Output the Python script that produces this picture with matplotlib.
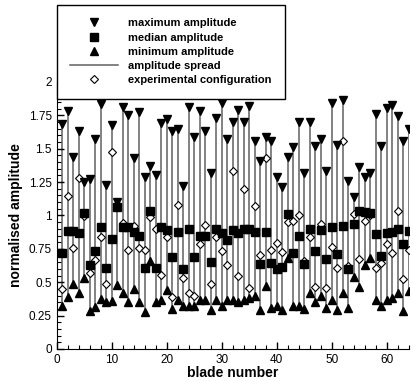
import matplotlib
matplotlib.use("Agg")
import matplotlib.pyplot as plt
import numpy as np
from matplotlib.lines import Line2D
from matplotlib.ticker import MultipleLocator

plt.rcParams['font.family'] = ['Liberation Sans', 'DejaVu Sans']

blade = np.arange(1, 65)

max_amp = [1.685, 1.78, 1.435, 1.635, 1.25, 1.27, 1.57, 1.835, 1.23, 1.68,
           1.10, 1.815, 1.75, 1.43, 1.775, 1.287, 1.37, 1.30, 1.69, 1.72,
           1.63, 1.65, 1.22, 1.815, 1.59, 1.78, 1.63, 1.32, 1.73, 1.84,
           1.57, 1.70, 1.79, 1.70, 1.82, 1.56, 1.41, 1.59, 1.555, 1.29,
           1.216, 1.44, 1.51, 1.70, 1.32, 1.70, 1.52, 1.57, 1.33, 1.845,
           1.528, 1.865, 1.26, 1.14, 1.366, 1.29, 1.315, 1.763, 1.524, 1.803,
           1.828, 1.747, 1.555, 1.645]

median_amp = [0.717, 0.886, 0.886, 0.871, 1.02, 0.63, 0.734, 0.914, 0.609, 0.826,
              1.065, 0.916, 0.916, 0.879, 0.843, 0.604, 1.03, 0.61, 0.916, 0.895,
              0.69, 0.88, 0.60, 0.90, 0.69, 0.85, 0.85, 0.65, 0.90, 0.87,
              0.82, 0.89, 0.87, 0.90, 0.90, 0.88, 0.635, 0.88, 0.645, 0.60,
              0.617, 1.01, 0.72, 0.85, 0.637, 0.897, 0.737, 0.891, 0.677, 0.916,
              0.713, 0.924, 0.60, 0.94, 1.035, 1.025, 1.02, 0.863, 0.70, 0.868,
              0.879, 0.90, 0.783, 0.884]

min_amp = [0.322, 0.39, 0.484, 0.417, 0.53, 0.282, 0.318, 0.372, 0.354, 0.36,
           0.48, 0.42, 0.35, 0.45, 0.35, 0.28, 0.66, 0.35, 0.37, 0.44,
           0.30, 0.37, 0.32, 0.32, 0.32, 0.37, 0.37, 0.29, 0.37, 0.32,
           0.37, 0.37, 0.35, 0.37, 0.385, 0.40, 0.29, 0.47, 0.31, 0.32,
           0.29, 0.68, 0.32, 0.32, 0.30, 0.42, 0.35, 0.40, 0.305, 0.37,
           0.29, 0.42, 0.305, 0.54, 0.465, 0.63, 0.68, 0.37, 0.32, 0.37,
           0.385, 0.42, 0.285, 0.435]

experimental = [0.45, 1.146, 0.76, 1.28, 0.996, 0.57, 0.663, 0.841, 0.49, 1.479,
                1.07, 0.946, 0.74, 0.92, 0.76, 0.74, 0.985, 0.90, 0.553, 0.84,
                0.387, 1.075, 0.53, 0.42, 0.40, 0.79, 0.93, 0.49, 0.84, 0.735,
                0.63, 1.33, 0.545, 1.20, 0.46, 1.07, 0.705, 1.43, 0.742, 0.795,
                0.729, 0.954, 0.956, 1.004, 0.66, 0.841, 0.465, 0.936, 0.455, 0.761,
                0.604, 1.56, 0.62, 1.009, 0.672, 0.958, 1.0, 0.604, 0.646, 0.79,
                0.716, 1.032, 0.527, 0.74]

fig = plt.figure(figsize=(4.13, 3.81), dpi=100)
ax = fig.add_axes([0.1373, 0.084, 0.8523, 0.7008])

line_col = '#606060'
ax.vlines(blade, min_amp, max_amp, color=line_col, lw=1.1, zorder=1)
ax.plot(blade, experimental, 'D', ms=3.6, mfc='white', mec='black', mew=0.8, ls='none', zorder=2)
ax.plot(blade, max_amp, 'v', ms=5.8, color='black', ls='none', zorder=3)
ax.plot(blade, median_amp, 's', ms=5.2, color='black', ls='none', zorder=3)
ax.plot(blade, min_amp, '^', ms=5.8, color='black', ls='none', zorder=3)

ax.set_xlim(0, 64)
ax.set_ylim(0, 2)
ax.spines['top'].set_visible(False)
ax.spines['right'].set_visible(False)
ax.xaxis.set_major_locator(MultipleLocator(10))
ax.xaxis.set_minor_locator(MultipleLocator(2))
ax.yaxis.set_major_locator(MultipleLocator(0.25))
ax.yaxis.set_minor_locator(MultipleLocator(0.05))
ax.yaxis.set_major_formatter(matplotlib.ticker.FuncFormatter(lambda v, p: f'{v:g}'))
ax.tick_params(which='major', direction='in', length=5, width=1, labelsize=8.5)
ax.tick_params(which='minor', direction='in', length=3, width=0.8)
ax.set_xlabel('blade number', fontsize=10, fontweight='bold', labelpad=0)
ax.set_ylabel('normalised amplitude', fontsize=10, fontweight='bold', labelpad=4)

handles = [
    Line2D([], [], marker='v', ls='none', color='black', ms=5.8),
    Line2D([], [], marker='s', ls='none', color='black', ms=5.2),
    Line2D([], [], marker='^', ls='none', color='black', ms=5.8),
    Line2D([], [], color=line_col, lw=1.1),
    Line2D([], [], marker='D', ls='none', ms=3.6, mfc='white', mec='black', mew=0.8),
]
labels = ['maximum amplitude', 'median amplitude', 'minimum amplitude',
          'amplitude spread', 'experimental configuration']
leg = fig.legend(handles, labels, loc='upper left', bbox_to_anchor=(57 / 413, 1 - 5 / 381),
                 frameon=True, fancybox=False, edgecolor='black', framealpha=1,
                 prop={'weight': 'bold', 'size': 8}, handlelength=4.3, handletextpad=0.9,
                 labelspacing=0.38, borderpad=1.2, borderaxespad=0)
leg.get_frame().set_linewidth(1.0)

plt.savefig('out.png', dpi=100)
